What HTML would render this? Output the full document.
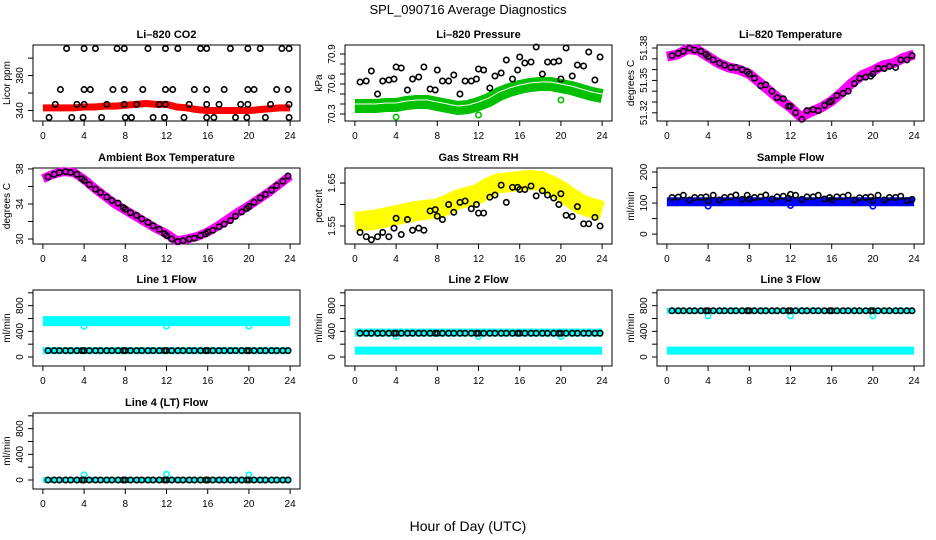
<!DOCTYPE html>
<html><head><meta charset="utf-8"><style>
html,body{margin:0;padding:0;background:#fff;}
svg{display:block;font-family:"Liberation Sans",sans-serif;}
</style></head><body>
<svg id="chart" width="936" height="540" viewBox="0 0 936 540" xmlns="http://www.w3.org/2000/svg">
<rect width="936" height="540" fill="#fff"/>
<text x="468" y="14" font-size="13" text-anchor="middle">SPL_090716  Average Diagnostics</text>
<text x="468" y="531" font-size="14" text-anchor="middle">Hour of Day (UTC)</text>
</svg>
<script>
const xTicks=[0,4,8,12,16,20,24];
const T=[0.5,1.1,1.6,2.2,2.7,3.3,3.8,4.0,4.5,5.1,5.6,6.2,6.7,7.3,7.8,8.0,8.5,9.1,9.6,10.2,10.7,11.3,11.8,12.0,12.5,13.1,13.6,14.2,14.7,15.3,15.8,16.0,16.5,17.1,17.6,18.2,18.7,19.3,19.8,20.0,20.5,21.1,21.6,22.2,22.7,23.3,23.8];
const H=[0,1,2,3,4,5,6,7,8,9,10,11,12,13,14,15,16,17,18,19,20,21,22,23,24];
// CO2
const co2T=[2.3,4.0,5.1,7.2,7.9,10.2,11.9,13.1,15.3,15.9,18.2,19.9,21.1,23.2,23.9, 1.7,4.0,4.6,6.8,7.9,9.7,11.9,12.6,14.7,15.9,17.6,19.9,20.5,22.7,23.8, 1.2,3.3,4.0,6.2,7.9,9.1,11.3,11.9,14.2,15.9,17.1,19.2,19.9,22.1,23.9, 0.6,2.8,3.9,5.7,8.0,8.6,10.7,11.8,13.7,15.9,16.6,18.7,19.8,21.6,23.9];
const co2V=[411,411,411,411,411,411,411,411,411,411,411,411,411,411,411, 364,364,364,364,364,364,364,364,364,364,364,364,364,364,364, 347,347,347,347,347,347,347,347,347,347,347,347,347,347,347, 332,332,332,332,332,332,332,332,332,332,332,332,332,332,332];
const co2Band=[343,343,343,343,344,344,345,345,346,347,348,347,347,344,343,341,340,340,340,340,340,341,342,343,343];
// Pressure
const presBand=[70.38,70.38,70.38,70.39,70.39,70.41,70.42,70.42,70.40,70.38,70.36,70.37,70.40,70.44,70.50,70.54,70.57,70.59,70.60,70.60,70.58,70.56,70.53,70.50,70.48];
const presV=[70.62,70.63,70.73,70.50,70.63,70.64,70.65,70.77,70.76,70.54,70.65,70.67,70.77,70.55,70.54,70.74,70.63,70.63,70.69,70.50,70.63,70.63,70.65,70.75,70.74,70.56,70.68,70.71,70.84,70.65,70.74,70.87,70.81,70.82,70.97,70.70,70.82,70.82,70.83,70.65,70.96,70.68,70.79,70.78,70.92,70.64,70.87];
const presOutT=[4,12,20];
const presOutV=[70.27,70.29,70.44];
// Li-820 temperature
const tempBand=[51.372,51.374,51.379,51.378,51.372,51.366,51.362,51.360,51.356,51.348,51.340,51.332,51.325,51.316,51.321,51.325,51.331,51.339,51.348,51.355,51.359,51.364,51.366,51.371,51.374];
const tempV=[51.373,51.375,51.377,51.380,51.378,51.377,51.374,51.372,51.369,51.366,51.364,51.362,51.362,51.360,51.358,51.356,51.352,51.345,51.346,51.340,51.334,51.333,51.326,51.326,51.320,51.314,51.322,51.323,51.322,51.327,51.330,51.331,51.336,51.338,51.340,51.347,51.352,51.353,51.354,51.356,51.361,51.361,51.363,51.362,51.369,51.369,51.373];
// Ambient
const ambBand=[36.9,37.4,37.7,37.6,36.8,35.8,34.9,34.0,33.3,32.6,31.9,31.2,30.6,29.8,30.0,30.3,30.8,31.5,32.3,33.1,33.8,34.6,35.4,36.3,37.2];
const ambV=[37.1,37.4,37.6,37.7,37.6,37.4,36.9,36.7,36.2,35.7,35.3,34.8,34.4,34.1,33.6,33.4,33.0,32.7,32.3,31.9,31.5,31.1,30.6,30.4,30.0,29.7,29.8,30.0,30.1,30.4,30.6,30.8,31.0,31.4,31.7,32.1,32.6,33.1,33.5,33.7,34.2,34.7,35.1,35.6,36.1,36.6,37.2];
// RH
const rhBand=[1.56,1.562,1.565,1.57,1.575,1.58,1.585,1.588,1.59,1.60,1.612,1.618,1.625,1.64,1.65,1.652,1.655,1.657,1.655,1.645,1.632,1.615,1.60,1.592,1.585];
const rhV=[1.535,1.525,1.518,1.525,1.535,1.525,1.545,1.568,1.530,1.565,1.540,1.545,1.540,1.585,1.588,1.573,1.565,1.600,1.582,1.605,1.608,1.590,1.600,1.580,1.580,1.617,1.622,1.645,1.605,1.640,1.640,1.635,1.635,1.643,1.620,1.632,1.622,1.615,1.600,1.625,1.575,1.572,1.595,1.555,1.555,1.570,1.550];
// Sample flow
const sampBand=[104,104,104,104,104,104,104,104,104,104,104,104,104,104,104,104,104,104,104,104,104,104,104,104,104];
const sampV=[118,119,125,110,118,118,120,107,125,110,118,120,126,112,125,113,118,120,126,113,120,122,115,128,125,112,120,120,125,113,118,110,120,120,125,110,117,118,120,108,125,110,118,118,122,108,112];
const dipT=[4,12,20];
const sampDip=[90,92,90];
// Line flows
const l1Upper=[560,560,560,560,560,560,560,560,560,560,560,560,560,560,560,560,560,560,560,560,560,560,560,560,560];
const l1Lower=[100,100,100,100,100,100,100,100,100,100,100,100,100,100,100,100,100,100,100,100,100,100,100,100,100];
const l1Black=[100,100,100,100,100,100,100,100,100,100,100,100,100,100,100,100,100,100,100,100,100,100,100,100,100,100,100,100,100,100,100,100,100,100,100,100,100,100,100,100,100,100,100,100,100,100,100];
const l1Dip=[480,480,480];
const l2Upper=[380,380,380,380,380,380,380,380,380,380,380,380,380,380,380,380,380,380,380,380,380,380,380,380,380];
const l2Lower=[100,100,100,100,100,100,100,100,100,100,100,100,100,100,100,100,100,100,100,100,100,100,100,100,100];
const l2Black=[370,370,370,370,370,370,370,370,370,370,370,370,370,370,370,370,370,370,370,370,370,370,370,370,370,370,370,370,370,370,370,370,370,370,370,370,370,370,370,370,370,370,370,370,370,370,370];
const l2Dip=[320,320,320];
const l3Upper=[720,720,720,720,720,720,720,720,720,720,720,720,720,720,720,720,720,720,720,720,720,720,720,720,720];
const l3Lower=[100,100,100,100,100,100,100,100,100,100,100,100,100,100,100,100,100,100,100,100,100,100,100,100,100];
const l3Black=[720,720,720,720,720,720,720,720,720,720,720,720,720,720,720,720,720,720,720,720,720,720,720,720,720,720,720,720,720,720,720,720,720,720,720,720,720,720,720,720,720,720,720,720,720,720,720];
const l3Dip=[640,640,640];
const l4Band=[0,0,0,0,0,0,0,0,0,0,0,0,0,0,0,0,0,0,0,0,0,0,0,0,0];
const l4Black=[0,0,0,0,0,0,0,0,0,0,0,0,0,0,0,0,0,0,0,0,0,0,0,0,0,0,0,0,0,0,0,0,0,0,0,0,0,0,0,0,0,0,0,0,0,0,0];
const l4Out=[80,90,80];

const NS="http://www.w3.org/2000/svg";
const svg=document.getElementById('chart');
const BW=267,BH=76;
function mk(tag,attrs,parent){const e=document.createElementNS(NS,tag);for(const k in attrs)e.setAttribute(k,attrs[k]);(parent||svg).appendChild(e);return e;}
function sx(p,t){return p.l+(t+0.96)/25.92*BW;}
function sy(p,v){return p.t+BH-(v-p.y0)/(p.y1-p.y0)*BH;}
function panel(p){
  const g=mk('g',{});
  
  
  const ti=mk('text',{x:p.l+BW/2,y:p.t-7,'font-size':11,'font-weight':'bold','text-anchor':'middle'},g);
  ti.textContent=p.title;
  
  
  const bx=mk('rect',{x:p.l,y:p.t,width:BW,height:BH,fill:'none',stroke:'#000','stroke-width':1},g);
  
  
  const xa=mk('g',{},g);
  
  
  xTicks.forEach(v=>{const x=sx(p,v);
    mk('line',{x1:x,x2:x,y1:p.t+BH,y2:p.t+BH+5,stroke:'#000'},xa);
    const t=mk('text',{x:x,y:p.t+BH+18,'font-size':10,'text-anchor':'middle'},xa);t.textContent=v;
    
    });
  const ya=mk('g',{},g);
  
  
  mk('line',{x1:p.l,x2:p.l,y1:sy(p,p.ticks[0]),y2:sy(p,p.ticks[p.ticks.length-1]),stroke:'#000'},ya);
  p.ticks.forEach((v,i)=>{const y=sy(p,v);
    mk('line',{x1:p.l-5,x2:p.l,y1:y,y2:y,stroke:'#000'},ya);
    if(p.labels[i]!==''){const xx=p.l-10;const t=mk('text',{x:xx,y:y,'font-size':10,'text-anchor':'middle',transform:`rotate(-90 ${xx} ${y})`},ya);t.textContent=p.labels[i];
      
      }});
  const yt=mk('text',{x:p.l-23,y:p.t+BH/2,'font-size':10,'text-anchor':'middle',transform:`rotate(-90 ${p.l-23} ${p.t+BH/2})`},g);
  yt.textContent=p.ylab;
  
  
  return g;
}
function band(p,g,ts,vs,color,w,name){
  const pl=mk('polyline',{points:ts.map((t,i)=>sx(p,t)+','+sy(p,vs[i])).join(' '),fill:'none',stroke:color,'stroke-width':w,'stroke-linejoin':'round','stroke-linecap':'butt'},g);
  
  
}
function pts(p,g,ts,vs,color,name){
  ts.forEach((t,i)=>{const c=mk('circle',{cx:sx(p,t),cy:sy(p,vs[i]),r:2.7,fill:'none',stroke:color,'stroke-width':1.6},g);
    
    });
}
const L=[33,345,657],R=[45,168,290,413];
const flowTicks=[0,200,400,600,800,1000],flowLabels=['0','','400','','800',''];

let p,g;
p={name:'co2-panel',title:'Li\u2013820 CO2',ylab:'Licor ppm',l:L[0],t:R[0],y0:328,y1:415,ticks:[340,360,380,400],labels:['340','','380','']};
g=panel(p);band(p,g,H,co2Band,'#ff0000',7,'co2-band');pts(p,g,co2T,co2V,'#000','co2-point');

p={name:'pressure-panel',title:'Li\u2013820 Pressure',ylab:'kPa',l:L[1],t:R[0],y0:70.23,y1:70.99,ticks:[70.3,70.4,70.5,70.6,70.7,70.8,70.9],labels:['70.3','','','70.6','','','70.9']};
g=panel(p);band(p,g,H,presBand,'#00c000',14,'pressure-band');
band(p,g,H,presBand.map(v=>v+0.02),'#ffffff',1,'pressure-median-line');
pts(p,g,T,presV,'#000','pressure-point');pts(p,g,presOutT,presOutV,'#00c000','pressure-outlier');

p={name:'licor-temp-panel',title:'Li\u2013820 Temperature',ylab:'degrees C',l:L[2],t:R[0],y0:51.3124,y1:51.3828,ticks:[51.32,51.33,51.34,51.35,51.36,51.37,51.38],labels:['51.32','','','51.35','','','51.38']};
g=panel(p);band(p,g,H,tempBand,'#ff00ff',10,'licor-temp-band');pts(p,g,T,tempV,'#000','licor-temp-point');

p={name:'ambient-panel',title:'Ambient Box Temperature',ylab:'degrees C',l:L[0],t:R[1],y0:29.43,y1:38.11,ticks:[30,32,34,36,38],labels:['30','','34','','38']};
g=panel(p);band(p,g,H,ambBand,'#ff00ff',9,'ambient-band');pts(p,g,T,ambV,'#000','ambient-point');

p={name:'rh-panel',title:'Gas Stream RH',ylab:'percent',l:L[1],t:R[1],y0:1.508,y1:1.685,ticks:[1.55,1.60,1.65],labels:['1.55','','1.65']};
g=panel(p);band(p,g,H,rhBand,'#ffff00',20,'rh-band');pts(p,g,T,rhV,'#000','rh-point');

p={name:'sample-flow-panel',title:'Sample Flow',ylab:'ml/min',l:L[2],t:R[1],y0:-32,y1:213,ticks:[0,50,100,150,200],labels:['0','','100','','200']};
g=panel(p);band(p,g,H,sampBand,'#0000ff',9,'sample-flow-band');pts(p,g,dipT,sampDip,'#0000ff','sample-flow-dip');pts(p,g,T,sampV,'#000','sample-flow-point');

p={name:'line1-panel',title:'Line 1 Flow',ylab:'ml/min',l:L[0],t:R[2],y0:-140,y1:1044,ticks:flowTicks,labels:flowLabels};
g=panel(p);band(p,g,H,l1Upper,'#00ffff',10,'line1-upper-band');band(p,g,H,l1Lower,'#00ffff',7,'line1-lower-band');
pts(p,g,dipT,l1Dip,'#00ffff','line1-dip');pts(p,g,T,l1Black,'#000','line1-point');

p={name:'line2-panel',title:'Line 2 Flow',ylab:'ml/min',l:L[1],t:R[2],y0:-140,y1:1044,ticks:flowTicks,labels:flowLabels};
g=panel(p);band(p,g,H,l2Upper,'#00ffff',8,'line2-upper-band');band(p,g,H,l2Lower,'#00ffff',8,'line2-lower-band');
pts(p,g,dipT,l2Dip,'#00ffff','line2-dip');pts(p,g,T,l2Black,'#000','line2-point');

p={name:'line3-panel',title:'Line 3 Flow',ylab:'ml/min',l:L[2],t:R[2],y0:-140,y1:1044,ticks:flowTicks,labels:flowLabels};
g=panel(p);band(p,g,H,l3Upper,'#00ffff',6,'line3-upper-band');band(p,g,H,l3Lower,'#00ffff',8,'line3-lower-band');
pts(p,g,dipT,l3Dip,'#00ffff','line3-dip');pts(p,g,T,l3Black,'#000','line3-point');

p={name:'line4-panel',title:'Line 4 (LT) Flow',ylab:'ml/min',l:L[0],t:R[3],y0:-140,y1:1044,ticks:flowTicks,labels:flowLabels};
g=panel(p);band(p,g,H,l4Band,'#00ffff',6,'line4-band');
pts(p,g,dipT,l4Out,'#00ffff','line4-outlier');pts(p,g,T,l4Black,'#000','line4-point');
</script>
</body></html>
